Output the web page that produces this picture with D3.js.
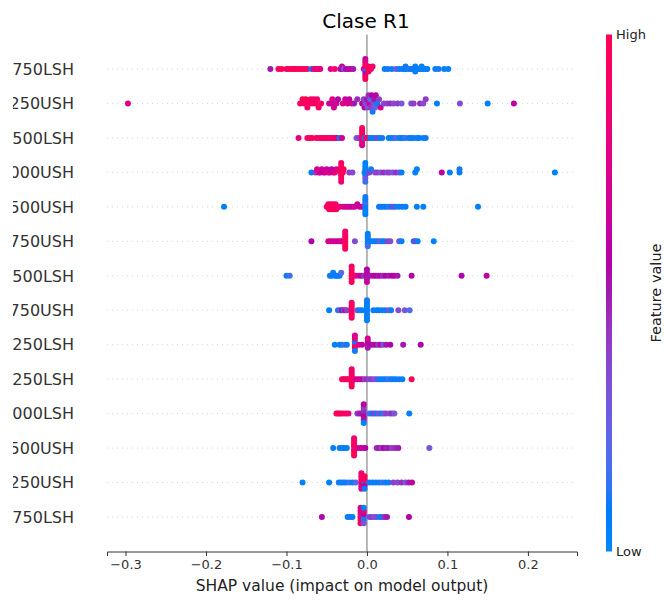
<!DOCTYPE html>
<html>
<head>
<meta charset="utf-8">
<script src="https://cdn.jsdelivr.net/npm/d3@7"></script>
<style>
  body { margin: 0; background: #fff; }
  text { font-family: "DejaVu Sans", sans-serif; }
</style>
</head>
<body>
<div id="chart"></div>
<script>
// feature names, top (most important) to bottom
const features = ["F1750LSH", "F1250USH", "F2500LSH", "F3000USH", "F1500USH", "F2750USH", "F3500LSH",
                  "F1750USH", "F2250LSH", "F1250LSH", "F2000LSH", "F2500USH", "F3250USH", "F2750LSH"];

const xTicks = [-0.3, -0.2, -0.1, 0.0, 0.1, 0.2];

// [shap value, normalised feature value] per sample
const r1750LSH = [[-0.120,0.5],[-0.110,0.95],[-0.106,1],[-0.100,0.95],[-0.097,0.9],[-0.094,1],[-0.091,0.95],[-0.089,0.9],[-0.086,1],[-0.083,0.95],[-0.080,1],[-0.077,0.9],[-0.074,0.95],[-0.069,0.05],[-0.066,0.8],[-0.064,0.95],[-0.062,0.7],[-0.060,0.9],[-0.058,0.8],
  [-0.045,0.75],[-0.040,0.9],[-0.033,0.6],[-0.031,0.55],[-0.031,0.65],[-0.029,0.3],[-0.026,0.55],[-0.023,0.6],[-0.020,0.65],[-0.017,0.5],
  [-0.004,0.8],[-0.002,0.7],[-0.002,0.9],[-0.002,0.1],[-0.002,0.95],[-0.002,0.6],[-0.002,0.85],[-0.002,0.75],[-0.002,0.65],[-0.002,1],[0.002,0.95],[0.002,0.9],[0.002,1],[0.005,0.95],[0.007,0.9],
  [0.022,0.05],[0.026,0.1],[0.031,0.05],[0.036,0.3],[0.040,0.05],[0.044,0.1],[0.046,0.05],[0.048,0.05],[0.048,0.1],[0.051,0.05],[0.053,0.15],[0.055,0.05],[0.058,0.1],[0.060,0.05],[0.060,0.05],[0.063,0.1],[0.065,0.05],[0.068,0.1],[0.068,0.05],[0.070,0.05],[0.073,0.1],[0.075,0.05],[0.085,0.05],[0.089,0.1],[0.096,0.05],[0.101,0.05]];

const r1250USH = [[-0.297,0.75],
  [-0.083,0.95],[-0.080,1],[-0.078,0.9],[-0.076,1],[-0.074,0.95],[-0.072,0.9],[-0.070,1],[-0.068,0.95],[-0.066,0.85],[-0.064,1],[-0.062,0.9],[-0.060,0.95],[-0.057,0.85],
  [-0.047,0.7],[-0.044,0.6],[-0.043,0.75],[-0.041,0.65],[-0.038,0.7],[-0.036,0.55],
  [-0.030,0.75],[-0.027,0.65],[-0.024,0.7],[-0.022,0.6],[-0.019,0.8],[-0.016,0.5],[-0.012,0.45],
  [-0.006,0.55],[-0.004,0.4],[-0.003,0.6],[-0.002,0.35],[0.000,0.5],[0.001,0.3],[0.002,0.45],[0.003,0.7],[0.004,0.2],[0.005,0.4],[0.006,0.55],[0.007,0.1],[0.008,0.35],[0.009,0.5],[0.010,0.25],[0.011,0.6],[0.013,0.05],[0.015,0.4],[0.017,0.7],
  [0.021,0.35],[0.025,0.4],[0.029,0.45],[0.033,0.35],[0.038,0.4],[0.043,0.3],
  [0.055,0.35],[0.058,0.4],[0.066,0.45],[0.070,0.35],[0.073,0.4],[0.087,0.05],[0.1155,0.35],[0.150,0.05],[0.1826,0.6]];

const r2500LSH = [[-0.085,0.8],[-0.074,0.95],[-0.071,0.9],[-0.068,1],[-0.063,0.9],[-0.060,0.95],[-0.057,0.8],[-0.055,1],[-0.053,0.9],[-0.051,0.95],[-0.049,0.85],[-0.047,1],[-0.045,0.9],[-0.043,0.95],[-0.041,0.85],[-0.039,0.9],[-0.037,0.8],[-0.034,0.05],[-0.031,0.7],
  [-0.013,0.3],[-0.010,0.4],
  [-0.006,0.9],[-0.006,0.95],[-0.006,0.85],[-0.006,1],[-0.006,0.8],[-0.006,0.9],[-0.006,0.75],[-0.006,0.95],
  [-0.003,0.1],[-0.001,0.95],[0.002,1],[0.004,0.05],[0.007,0.1],[0.010,0.05],[0.013,0.4],[0.016,0.05],[0.019,0.1],
  [0.027,0.05],[0.030,0.1],[0.033,0.05],[0.036,0.2],[0.040,0.05],[0.042,0.1],[0.045,0.05],[0.048,0.15],[0.052,0.05],[0.055,0.1],[0.058,0.05],[0.062,0.1],[0.065,0.05],[0.070,0.05],[0.073,0.1]];

const r3000USH = [[-0.069,0.05],[-0.064,0.4],[-0.062,0.7],[-0.060,0.75],[-0.058,0.65],[-0.056,0.7],[-0.054,0.6],[-0.052,0.7],[-0.050,0.65],[-0.048,0.75],[-0.046,0.7],[-0.044,0.6],[-0.042,0.7],[-0.040,0.8],[-0.038,0.75],
  [-0.033,0.9],[-0.032,1],[-0.032,0.95],[-0.032,0.9],[-0.032,1],[-0.032,0.95],[-0.032,0.85],[-0.030,0.95],[-0.029,1],
  [-0.022,0.4],[-0.018,0.35],
  [-0.003,0.1],[-0.002,0.05],[-0.002,0.1],[-0.002,0.05],[-0.002,0.3],[-0.002,0.05],[-0.002,0.15],[0.001,0.05],[0.003,0.4],[0.005,0.1],
  [0.010,0.35],[0.013,0.4],[0.017,0.3],[0.021,0.45],[0.025,0.35],[0.028,0.4],[0.032,0.3],[0.036,0.45],[0.040,0.35],[0.043,0.05],
  [0.060,0.05],[0.062,0.05],[0.093,0.6],[0.103,0.05],[0.115,0.05],[0.115,0.1],[0.2335,0.05]];

const r1500USH = [[-0.1776,0.05],
  [-0.050,0.95],[-0.049,1],[-0.048,0.9],[-0.047,0.95],[-0.046,1],[-0.045,0.9],[-0.044,0.95],[-0.043,1],[-0.042,0.9],[-0.041,0.95],[-0.040,1],[-0.039,0.9],[-0.038,0.95],[-0.036,0.85],[-0.034,0.9],
  [-0.030,0.75],[-0.027,0.7],[-0.024,0.65],[-0.021,0.7],[-0.018,0.6],[-0.015,0.7],[-0.012,0.65],[-0.009,0.6],[-0.006,0.7],
  [-0.002,0.05],[-0.002,0.1],[-0.002,0.05],[-0.002,0.15],[-0.002,0.05],[-0.002,0.1],[-0.002,0.05],[-0.002,0.1],
  [0.015,0.1],[0.018,0.05],[0.021,0.1],[0.024,0.05],[0.027,0.15],[0.030,0.05],[0.033,0.4],[0.036,0.1],[0.040,0.05],[0.044,0.1],[0.048,0.05],[0.062,0.05],[0.070,0.05],[0.138,0.05]];

const r2750USH = [[-0.069,0.55],[-0.048,0.7],[-0.045,0.75],[-0.042,0.65],[-0.039,0.7],[-0.036,0.6],[-0.033,0.75],[-0.031,0.7],
  [-0.027,0.95],[-0.027,1],[-0.027,0.9],[-0.027,0.95],[-0.027,1],[-0.027,0.85],[-0.027,0.95],[-0.027,0.9],
  [-0.015,0.35],
  [0.001,0.05],[0.001,0.1],[0.001,0.05],[0.001,0.05],[0.001,0.15],[0.001,0.05],[0.004,0.1],[0.007,0.05],
  [0.010,0.1],[0.013,0.05],[0.016,0.3],[0.019,0.05],[0.022,0.1],[0.026,0.4],[0.029,0.35],[0.040,0.3],[0.043,0.05],[0.058,0.05],[0.060,0.4],[0.063,0.05],[0.083,0.05]];

const r3500LSH = [[-0.100,0.1],[-0.096,0.15],
  [-0.046,0.05],[-0.044,0.1],[-0.042,0.05],[-0.040,0.1],[-0.038,0.05],[-0.036,0.1],[-0.034,0.05],[-0.032,0.2],
  [-0.019,0.95],[-0.019,1],[-0.019,0.9],[-0.019,0.95],[-0.019,1],[-0.019,0.9],
  [-0.014,0.8],[-0.010,0.7],[-0.007,0.6],[-0.004,0.45],
  [0.000,0.55],[0.000,0.6],[0.000,0.5],[0.000,0.55],[0.000,0.65],[0.004,0.5],[0.008,0.6],[0.011,0.55],[0.014,0.5],[0.017,0.6],[0.020,0.45],[0.023,0.55],[0.027,0.5],[0.031,0.55],[0.034,0.6],[0.038,0.5],[0.0555,0.55],[0.1176,0.55],[0.1487,0.6]];

const r1750USH = [[-0.047,0.05],[-0.036,0.1],[-0.033,0.3],[-0.031,0.6],[-0.029,0.1],[-0.027,0.7],[-0.025,0.4],
  [-0.019,0.95],[-0.019,1],[-0.019,0.8],[-0.019,0.95],[-0.019,1],[-0.019,0.9],[-0.019,0.95],
  [-0.012,0.3],[-0.009,0.1],[-0.006,0.05],
  [0.000,0.05],[0.000,0.1],[0.000,0.05],[0.000,0.05],[0.000,0.1],[0.000,0.05],[0.000,0.05],[0.000,0.1],[0.000,0.05],
  [0.008,0.05],[0.012,0.1],[0.015,0.05],[0.019,0.1],[0.023,0.05],[0.027,0.3],[0.030,0.1],[0.039,0.35],[0.047,0.3],[0.053,0.2]];

const r2250LSH = [[-0.040,0.05],[-0.034,0.1],[-0.031,0.05],[-0.028,0.15],[-0.025,0.1],
  [-0.015,0.95],[-0.015,0.05],[-0.015,0.9],[-0.015,0.8],[-0.015,0.1],[-0.015,0.7],
  [-0.010,0.75],[-0.006,0.6],
  [0.001,0.75],[0.001,0.6],[0.001,0.5],[0.001,0.7],
  [0.005,0.55],[0.008,0.5],[0.011,0.6],[0.014,0.4],[0.017,0.55],[0.020,0.35],[0.024,0.5],[0.029,0.55],[0.045,0.5],[0.0668,0.55]];

const r1250LSH = [[-0.031,0.95],[-0.029,0.9],[-0.027,1],[-0.025,0.85],[-0.023,0.9],
  [-0.019,0.95],[-0.019,1],[-0.019,0.9],[-0.019,0.95],[-0.019,1],[-0.019,0.85],[-0.019,0.95],[-0.019,0.9],
  [-0.015,0.8],[-0.012,0.7],[-0.009,0.75],[-0.006,0.6],
  [-0.003,0.4],[0.000,0.45],[0.003,0.35],[0.006,0.4],[0.009,0.3],[0.012,0.35],
  [0.015,0.1],[0.018,0.05],[0.021,0.1],[0.024,0.05],[0.027,0.2],[0.030,0.05],[0.033,0.1],[0.036,0.05],[0.040,0.1],[0.044,0.05],[0.0555,1]];

const r2000LSH = [[-0.038,0.95],[-0.036,1],[-0.034,0.9],[-0.032,0.95],[-0.029,1],[-0.026,0.9],[-0.023,0.85],
  [-0.012,0.4],[-0.009,0.5],
  [-0.004,0.5],[-0.004,0.45],[-0.004,0.55],[-0.004,0.4],[-0.004,0.5],[-0.004,0.6],[-0.004,0.05],
  [0.003,0.2],[0.006,0.05],[0.009,0.4],[0.012,0.1],[0.015,0.35],[0.018,0.05],[0.021,0.3],[0.024,0.4],[0.028,0.35],[0.031,0.45],[0.034,0.3],[0.0526,0.05]];

const r2500USH = [[-0.042,0.05],[-0.034,0.1],[-0.031,0.05],[-0.028,0.1],[-0.025,0.05],
  [-0.016,0.95],[-0.016,1],[-0.016,0.9],[-0.016,0.95],[-0.016,1],[-0.016,0.85],[-0.016,0.95],[-0.016,0.9],
  [-0.012,0.75],[-0.008,0.6],[-0.005,0.7],[-0.002,0.55],
  [0.012,0.45],[0.015,0.5],[0.018,0.4],[0.021,0.55],[0.024,0.45],[0.027,0.5],[0.031,0.4],[0.035,0.45],[0.039,0.5],[0.0775,0.3]];

const r3250USH = [[-0.080,0.05],[-0.047,0.05],[-0.035,0.1],[-0.032,0.05],[-0.029,0.1],[-0.026,0.05],[-0.022,0.15],[-0.018,0.05],[-0.014,0.2],
  [-0.007,0.8],[-0.007,0.95],[-0.007,0.7],[-0.007,0.9],[-0.007,0.75],[-0.007,0.85],
  [-0.003,0.05],[-0.003,0.9],[-0.003,0.6],[-0.003,1],[-0.003,0.1],
  [0.003,0.1],[0.007,0.05],[0.011,0.1],[0.015,0.05],[0.019,0.15],[0.023,0.05],[0.027,0.1],[0.033,0.4],[0.038,0.35],[0.043,0.45],[0.048,0.3],[0.052,0.5],[0.056,0.6]];

const r2750LSH = [[-0.056,0.55],[-0.024,0.05],[-0.021,0.1],[-0.018,0.05],
  [-0.008,0.95],[-0.008,0.8],[-0.008,1],[-0.008,0.7],[-0.008,0.9],[-0.008,0.75],
  [-0.004,0.05],[-0.004,0.6],[-0.004,0.1],[-0.004,0.85],[-0.004,0.3],[-0.004,0.05],
  [0.003,0.35],[0.006,0.4],[0.009,0.3],[0.012,0.35],[0.016,0.05],[0.019,0.1],[0.022,0.45],[0.025,0.5],[0.0522,0.55]];

const rows = [r1750LSH, r1250USH, r2500LSH, r3000USH, r1500USH, r2750USH, r3500LSH,
              r1750USH, r2250LSH, r1250LSH, r2000LSH, r2500USH, r3250USH, r2750LSH];

// SHAP red_blue colour map (lch ramp from blue to red)
function shapColor(t) {
    let l = t < 0.5 ? 54 + (40 - 54) * (t / 0.5) : 40 + (54 - 40) * ((t - 0.5) / 0.5);
    let c = 70 + 20 * t;
    let h = (4.6588 + (0.35470565 + 2 * Math.PI - 4.6588) * t) * 180 / Math.PI;
    return d3.hcl(h, c, l).formatHex();
}

// beeswarm offsets, same binning idea as shap's summary plot
function swarm(pts) {
    let vals = pts.map(d => d[0]);
    let lo = d3.min(vals), hi = d3.max(vals);
    let nbins = 100;
    let quant = vals.map(v => Math.round(nbins * (v - lo) / (hi - lo + 1e-8)));
    let order = d3.range(pts.length).sort((a, b) => quant[a] - quant[b] || a - b);
    let ys = new Array(pts.length).fill(0);
    let layer = 0, lastBin = -1;
    order.forEach(i => {
        if (quant[i] !== lastBin) layer = 0;
        ys[i] = Math.ceil(layer / 2) * ((layer % 2) * 2 - 1);
        layer += 1;
        lastBin = quant[i];
    });
    let maxY = d3.max(ys.map(y => y + 1));
    return ys.map(y => y * 0.9 * (0.4 / maxY));
}

const width = 664, height = 600;
const plotTop = 34.5, plotBottom = 551.5;

const svg = d3.select("#chart").append("svg")
    .attr("width", width)
    .attr("height", height);

const x = d3.scaleLinear().domain([-0.323, 0.261]).range([107, 577]);
const y = d3.scalePoint().domain(features).range([69, 517]);
const rowStep = y.step();

// dotted row guides
svg.selectAll(".guide")
    .data(features)
    .enter().append("line")
    .attr("class", "guide")
    .attr("x1", 107).attr("x2", 577)
    .attr("y1", d => y(d)).attr("y2", d => y(d))
    .attr("stroke", "#cccccc")
    .attr("stroke-width", 0.8)
    .attr("stroke-dasharray", "1,4");

// zero line
svg.append("line")
    .attr("x1", x(0)).attr("x2", x(0))
    .attr("y1", plotTop).attr("y2", plotBottom)
    .attr("stroke", "#999999")
    .attr("stroke-width", 1.4);

// dots
rows.forEach((pts, i) => {
    let ys = swarm(pts);
    let cy = y(features[i]);
    svg.append("g")
        .selectAll("circle")
        .data(pts)
        .enter().append("circle")
        .attr("cx", d => x(d[0]))
        .attr("cy", (d, j) => cy - ys[j] * rowStep)
        .attr("r", 3)
        .attr("fill", d => shapColor(d[1]));
});

// feature labels, clipped at the left like the source figure
svg.append("clipPath").attr("id", "labelClip")
    .append("rect").attr("x", 13).attr("y", 0).attr("width", 100).attr("height", height);

svg.append("g")
    .attr("clip-path", "url(#labelClip)")
    .selectAll("text")
    .data(features)
    .enter().append("text")
    .attr("x", 74)
    .attr("y", d => y(d))
    .attr("dy", "0.36em")
    .attr("text-anchor", "end")
    .attr("fill", "#333333")
    .style("font-size", "16px")
    .text(d => d);

// x axis
const xAxis = svg.append("g")
    .attr("transform", `translate(0,${plotBottom})`)
    .call(d3.axisBottom(x).tickValues(xTicks).tickFormat(d3.format(".1f")).tickSizeOuter(0).tickSize(4.5).tickPadding(4));
xAxis.select(".domain").attr("stroke", "#333333").attr("stroke-width", 1);
xAxis.selectAll(".tick line").attr("stroke", "#333333");
xAxis.selectAll(".tick text")
    .attr("fill", "#333333")
    .style("font-size", "13px")
    .style("font-family", "DejaVu Sans");

svg.append("text")
    .attr("x", (107 + 577) / 2)
    .attr("y", 591)
    .attr("text-anchor", "middle")
    .attr("fill", "#222222")
    .style("font-size", "15.5px")
    .text("SHAP value (impact on model output)");

// title
svg.append("text")
    .attr("x", 366)
    .attr("y", 28)
    .attr("text-anchor", "middle")
    .attr("fill", "#000000")
    .style("font-size", "20px")
    .text("Clase R1");

// colour bar
const grad = svg.append("defs").append("linearGradient")
    .attr("id", "shapGrad")
    .attr("x1", "0%").attr("x2", "0%")
    .attr("y1", "100%").attr("y2", "0%");
d3.range(0, 1.0001, 0.02).forEach(t => {
    grad.append("stop")
        .attr("offset", (t * 100) + "%")
        .attr("stop-color", shapColor(t));
});

svg.append("rect")
    .attr("x", 606).attr("y", plotTop)
    .attr("width", 6).attr("height", plotBottom - plotTop)
    .attr("fill", "url(#shapGrad)");

svg.append("text")
    .attr("x", 616).attr("y", plotTop)
    .attr("dy", "0.36em")
    .attr("fill", "#222222")
    .style("font-size", "13px")
    .text("High");

svg.append("text")
    .attr("x", 616).attr("y", plotBottom)
    .attr("dy", "0.36em")
    .attr("fill", "#222222")
    .style("font-size", "13px")
    .text("Low");

svg.append("text")
    .attr("transform", "translate(656,293) rotate(-90)")
    .attr("text-anchor", "middle")
    .attr("dy", "0.36em")
    .attr("fill", "#222222")
    .style("font-size", "14.5px")
    .text("Feature value");
</script>
</body>
</html>
